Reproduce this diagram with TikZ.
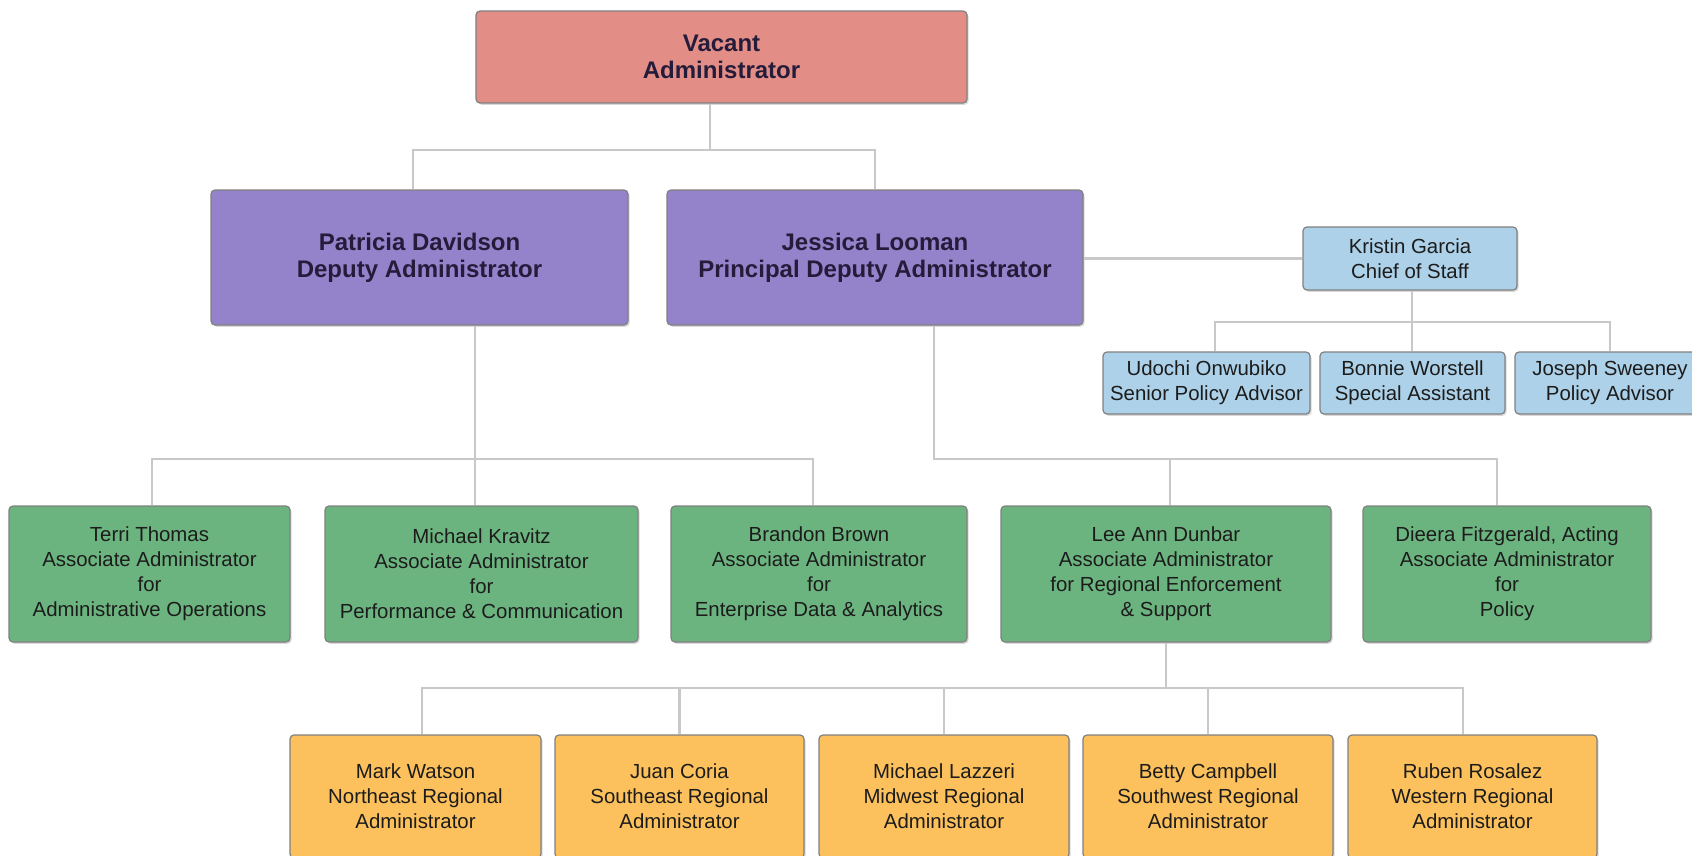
\documentclass[tikz,border=0pt]{standalone}
\usepackage{fontspec}
\setmainfont{Liberation Sans}
\usetikzlibrary{shadows}
\definecolor{cVac}{HTML}{E28E87}
\definecolor{cPur}{HTML}{9483CA}
\definecolor{cBlu}{HTML}{ADD1E8}
\definecolor{cGrn}{HTML}{6CB47F}
\definecolor{cOrg}{HTML}{FCC15C}
\definecolor{boxline}{HTML}{808080}
\definecolor{connc}{HTML}{C8C8C8}
\definecolor{txt}{HTML}{1C1C1C}
\definecolor{txtb}{HTML}{241C3A}
\begin{document}
\begin{tikzpicture}[x=0.5pt,y=-0.5pt,
  box/.style={draw=boxline, line width=0.6pt, rounded corners=2pt, inner sep=0pt, align=center,
    font=\fontsize{10.2}{12.5}\selectfont, text=txt,
    drop shadow={shadow xshift=0.8pt, shadow yshift=-0.9pt, opacity=0.3}},
  bbox/.style={box, text=txtb, font=\bfseries\fontsize{12}{13.5}\selectfont},
  conn/.style={draw=connc, line width=1.1pt}]
\useasboundingbox (0,0) rectangle (1692,856);
\fill[white] (0,0) rectangle (1692,856);
\clip (0,0) rectangle (1692,856);

% top
\node[bbox, fill=cVac, minimum width=245.5pt, minimum height=46pt] (va) at (721.5,57) {Vacant\\Administrator};
\node[bbox, fill=cPur, minimum width=208.5pt, minimum height=67.5pt] (pd) at (419.5,257.5) {Patricia Davidson\\Deputy Administrator};
\node[bbox, fill=cPur, minimum width=208pt, minimum height=67.5pt] (jl) at (875,257.5) {Jessica Looman\\Principal Deputy Administrator};

% staff
\node[box, fill=cBlu, minimum width=107pt, minimum height=31.5pt] (kg) at (1410,258.5) {Kristin Garcia\\Chief of Staff};
\node[box, fill=cBlu, minimum width=103.5pt, minimum height=31pt] (uo) at (1206.5,383) {Udochi Onwubiko\\Senior Policy Advisor};
\node[box, fill=cBlu, minimum width=92.5pt, minimum height=31pt] (bw) at (1412.5,383) {Bonnie Worstell\\Special Assistant};
\node[box, fill=cBlu, minimum width=95pt, minimum height=31pt] (js) at (1610,383) {Joseph Sweeney\\Policy Advisor};

% associate administrators
\node[box, fill=cGrn, minimum width=140.5pt, minimum height=68pt] (tt) at (149.5,574) {Terri Thomas\\Associate Administrator\\for\\Administrative Operations};
\node[box, fill=cGrn, minimum width=156.5pt, minimum height=68pt] (mk) at (481.5,574) {Michael Kravitz\\Associate Administrator\\for\\Performance \& Communication};
\node[box, fill=cGrn, minimum width=148pt, minimum height=68pt] (bb) at (819,574) {Brandon Brown\\Associate Administrator\\for\\Enterprise Data \& Analytics};
\node[box, fill=cGrn, minimum width=165pt, minimum height=68pt] (ld) at (1166,574) {Lee Ann Dunbar\\Associate Administrator\\for Regional Enforcement\\\& Support};
\node[box, fill=cGrn, minimum width=144pt, minimum height=68pt] (df) at (1507,574) {Dieera Fitzgerald, Acting\\Associate Administrator\\for\\Policy};

% regional administrators
\node[box, fill=cOrg, minimum width=125.5pt, minimum height=61.5pt] (mw) at (415.5,796.5) {Mark Watson\\Northeast Regional\\Administrator};
\node[box, fill=cOrg, minimum width=124.5pt, minimum height=61.5pt] (jc) at (679.5,796.5) {Juan Coria\\Southeast Regional\\Administrator};
\node[box, fill=cOrg, minimum width=125pt, minimum height=61.5pt] (ml) at (944,796.5) {Michael Lazzeri\\Midwest Regional\\Administrator};
\node[box, fill=cOrg, minimum width=125pt, minimum height=61.5pt] (bc) at (1208,796.5) {Betty Campbell\\Southwest Regional\\Administrator};
\node[box, fill=cOrg, minimum width=124.5pt, minimum height=61.5pt] (rr) at (1472.5,796.5) {Ruben Rosalez\\Western Regional\\Administrator};

% junction coordinates
\coordinate (t1) at (710,150);
\coordinate (t2) at (1412,322);
\coordinate (t3) at (475,459);
\coordinate (t4) at (934,459);
\coordinate (t5) at (1166,688);

% connectors
\draw[conn] (va.south -| t1) -- (t1) -| (jl.north);
\draw[conn] (t1) -| (pd.north -| 413,0);
\draw[conn] (jl.east |- kg.west) -- (kg.west);
\draw[conn] (kg.south -| t2) -- (t2) -- (bw.north -| t2);
\draw[conn] (t2) -| (uo.north -| 1215,0);
\draw[conn] (t2) -| (js.north);
\draw[conn] (pd.south -| t3) -- (t3) -- (mk.north -| t3);
\draw[conn] (t3) -| (tt.north -| 152,0);
\draw[conn] (t3) -| (bb.north -| 813,0);
\draw[conn] (jl.south -| t4) -- (t4) -| (df.north -| 1497,0);
\draw[conn] (t4) -| (ld.north -| 1170,0);
\draw[conn] (ld.south -| t5) -- (t5);
\draw[conn] (t5) -| (mw.north -| 422,0);
\draw[conn] (t5) -| (jc.north);
\draw[conn] (t5) -| (ml.north);
\draw[conn] (t5) -| (bc.north);
\draw[conn] (t5) -| (rr.north -| 1463,0);
\end{tikzpicture}
\end{document}
